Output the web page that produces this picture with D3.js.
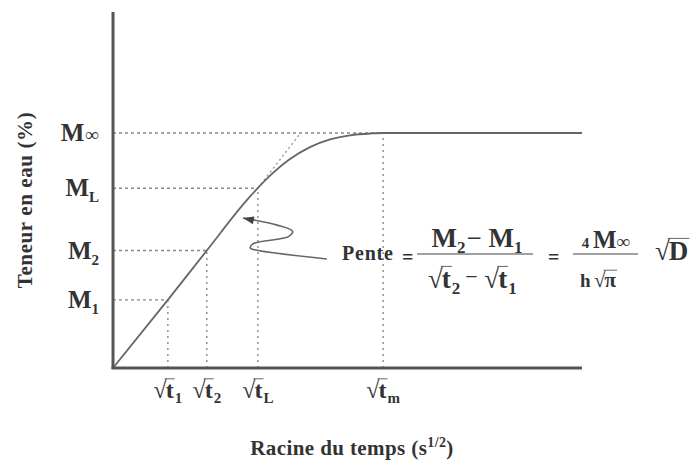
<!DOCTYPE html>
<html lang="fr">
<head>
  <meta charset="UTF-8">
  <title>Teneur en eau vs racine du temps</title>
  <script src="https://d3js.org/d3.v7.min.js"></script>
  <style>
    html, body { margin: 0; padding: 0; background: #fff; }
    svg text { font-family: "Liberation Serif", "Times New Roman", serif; font-weight: bold; fill: #333; }
  </style>
</head>
<body>
  <svg id="chart" width="691" height="470"></svg>
  <script>
    // racine du temps (unites arbitraires) pour les reperes
    var tickNames = ["1", "2", "L", "m"];
    var tickValues = [1.17, 2.0, 3.09, 5.76];
    // teneur en eau (fraction de M infini) pour les reperes
    var levelNames = ["1", "2", "L", "\u221e"];
    var levelValues = [0.29, 0.50, 0.765, 1.0];

    // courbe d'absorption
    var curveX = [0, 1.17, 2.0, 2.9, 3.4, 3.75, 4.2, 4.63, 5.05, 5.5, 5.76, 10];
    var curveY = [0, 0.29, 0.50, 0.725, 0.828, 0.886, 0.94, 0.973, 0.99, 0.998, 1.0, 1.0];

    // prolongement de la tangente (pente initiale)
    var tangentX = [3.09, 4.0];
    var tangentY = [0.765, 1.0];

    // fleche en zigzag vers la pente
    var arrowX = [2.77, 3.5, 3.83, 3.75, 2.98, 2.93, 3.1, 4.56];
    var arrowY = [0.638, 0.608, 0.582, 0.560, 0.528, 0.510, 0.500, 0.464];

    var svg = d3.select("#chart");
    var x = d3.scaleLinear().domain([0, 10]).range([113, 582]);
    var y = d3.scaleLinear().domain([0, 1.515]).range([368, 12]);
    var grey = "#555";

    // helper: text with subscripts
    function rich(g, px, py, size, segs, anchor) {
      var t = g.append("text").attr("x", px).attr("y", py)
        .style("font-size", size + "px")
        .attr("text-anchor", anchor || "start");
      segs.forEach(function(s) {
        var sp = t.append("tspan").text(s.t);
        if (s.size) sp.style("font-size", s.size + "px");
        if (s.dy) sp.attr("dy", s.dy);
        if (s.dx) sp.attr("dx", s.dx);
        if (s.weight) sp.style("font-weight", s.weight);
      });
      return t;
    }

    // helper: radical sqrt(t_sub), returns group and width
    function radical(g, px, py, size, base, sub, subSize) {
      var r = g.append("g");
      var rt = r.append("text").attr("x", 0).attr("y", 0)
        .style("font-size", size + "px").style("font-weight", "normal").text("\u221a");
      var rw = rt.node().getComputedTextLength();
      var bt = r.append("text").attr("x", rw - 1).attr("y", 0)
        .style("font-size", size + "px").text(base);
      var bw = bt.node().getComputedTextLength();
      r.append("line")
        .attr("x1", rw - 2).attr("x2", rw + bw)
        .attr("y1", -size * 0.80).attr("y2", -size * 0.80)
        .attr("stroke", "#555").attr("stroke-width", 0.9);
      var w = rw + bw;
      if (sub) {
        var st = r.append("text").attr("x", rw + bw).attr("y", size * 0.22)
          .style("font-size", (subSize || size * 0.62) + "px").text(sub);
        w += st.node().getComputedTextLength();
      }
      r.attr("transform", "translate(" + px + "," + py + ")");
      return { g: r, w: w };
    }

    // pointilles horizontaux
    svg.append("g").selectAll("line.h")
      .data(levelValues)
      .join("line")
      .attr("x1", x(0))
      .attr("x2", function(d, i) { return x(tickValues[i]); })
      .attr("y1", function(d) { return y(d); })
      .attr("y2", function(d) { return y(d); })
      .attr("stroke", "#888").attr("stroke-width", 1.4)
      .attr("stroke-dasharray", "3,3");

    // pointilles verticaux
    svg.append("g").selectAll("line.v")
      .data(tickValues)
      .join("line")
      .attr("x1", function(d) { return x(d); })
      .attr("x2", function(d) { return x(d); })
      .attr("y1", y(0))
      .attr("y2", function(d, i) { return y(levelValues[i]); })
      .attr("stroke", "#888").attr("stroke-width", 1.4)
      .attr("stroke-dasharray", "2,4");

    // tangente prolongee
    svg.append("line")
      .attr("x1", x(tangentX[0])).attr("y1", y(tangentY[0]))
      .attr("x2", x(tangentX[1])).attr("y2", y(tangentY[1]))
      .attr("stroke", "#999").attr("stroke-width", 1.4)
      .attr("stroke-dasharray", "2,3");

    // courbe
    var pts = curveX.map(function(d, i) { return [d, curveY[i]]; });
    svg.append("path")
      .datum(pts)
      .attr("fill", "none")
      .attr("stroke", "#666")
      .attr("stroke-width", 1.8)
      .attr("d", d3.line().x(function(d) { return x(d[0]); }).y(function(d) { return y(d[1]); })
        .curve(d3.curveMonotoneX));

    // axes
    svg.append("line")
      .attr("x1", x(0)).attr("x2", x(0)).attr("y1", y(0) + 1).attr("y2", y(1.515))
      .attr("stroke", grey).attr("stroke-width", 3);
    svg.append("line")
      .attr("x1", x(0) - 1.5).attr("x2", x(10)).attr("y1", y(0)).attr("y2", y(0))
      .attr("stroke", grey).attr("stroke-width", 3);

    // fleche
    var apts = arrowX.map(function(d, i) { return [x(d), y(arrowY[i])]; });
    svg.append("path")
      .datum(apts)
      .attr("fill", "none").attr("stroke", "#666").attr("stroke-width", 1.6)
      .attr("d", d3.line().curve(d3.curveCatmullRom.alpha(0.5)));
    var tip = apts[0], nxt = apts[1];
    var ang = Math.atan2(tip[1] - nxt[1], tip[0] - nxt[0]);
    var hl = 11, hw = 4;
    svg.append("path")
      .attr("d", "M" + tip[0] + "," + tip[1] +
        "L" + (tip[0] - hl * Math.cos(ang) + hw * Math.sin(ang)) + "," + (tip[1] - hl * Math.sin(ang) - hw * Math.cos(ang)) +
        "L" + (tip[0] - hl * Math.cos(ang) - hw * Math.sin(ang)) + "," + (tip[1] - hl * Math.sin(ang) + hw * Math.cos(ang)) + "Z")
      .attr("fill", "#444");

    // etiquettes axe y
    var ylab = svg.append("g");
    levelValues.forEach(function(v, i) {
      var segs = levelNames[i] === "\u221e"
        ? [{ t: "M" }, { t: "\u221e", size: 19, dx: 1 }]
        : [{ t: "M" }, { t: levelNames[i], size: 15, dy: 6 }];
      rich(ylab, 99, y(v) + 8, 25, segs, "end");
    });

    // etiquettes axe x
    var xlab = svg.append("g");
    tickValues.forEach(function(v, i) {
      var r = radical(xlab, 0, 398, 24, "t", tickNames[i], 15);
      r.g.attr("transform", "translate(" + (x(v) - r.w / 2) + ",398)");
    });

    // titres des axes
    rich(svg, 352, 455, 21, [{ t: "Racine du temps (s" }, { t: "1/2", size: 14, dy: -8 }, { t: ")", dy: 8 }], "middle")
      .style("letter-spacing", "0.4px");
    rich(svg, 0, 0, 21, [{ t: "Teneur en eau (%)" }], "middle")
      .style("letter-spacing", "0.6px")
      .attr("transform", "translate(32,200) rotate(-90)");

    // formule de la pente
    var f = svg.append("g");
    rich(f, 342, 260, 20, [{ t: "Pente" }]).style("letter-spacing", "0.8px");
    rich(f, 402, 264, 20, [{ t: "=" }]);
    rich(f, 477, 247, 27, [{ t: "M" }, { t: "2", size: 17, dy: 6 }, { t: "\u2212 ", dy: -6, dx: 1, weight: "normal" }, { t: "M" }, { t: "1", size: 17, dy: 6 }], "middle");
    f.append("line").attr("x1", 417).attr("x2", 533).attr("y1", 254).attr("y2", 254)
      .attr("stroke", "#444").attr("stroke-width", 1.2);
    var d1 = radical(f, 428, 288, 27, "t", "2", 17);
    rich(f, 428 + d1.w + 5, 284, 22, [{ t: "\u2212", weight: "normal" }]);
    radical(f, 428 + d1.w + 24, 288, 27, "t", "1", 17);
    rich(f, 548, 264, 20, [{ t: "=" }]);
    rich(f, 606, 248, 15, [{ t: "4 " }, { t: "M", size: 25 }, { t: "\u221e", size: 19 }], "middle");
    f.append("line").attr("x1", 573).attr("x2", 638).attr("y1", 254).attr("y2", 254)
      .attr("stroke", "#444").attr("stroke-width", 1.2);
    rich(f, 580, 287, 19, [{ t: "h" }]);
    radical(f, 594, 287, 21, "\u03c0", null);
    radical(f, 655, 260, 27, "D", null);
  </script>
</body>
</html>
